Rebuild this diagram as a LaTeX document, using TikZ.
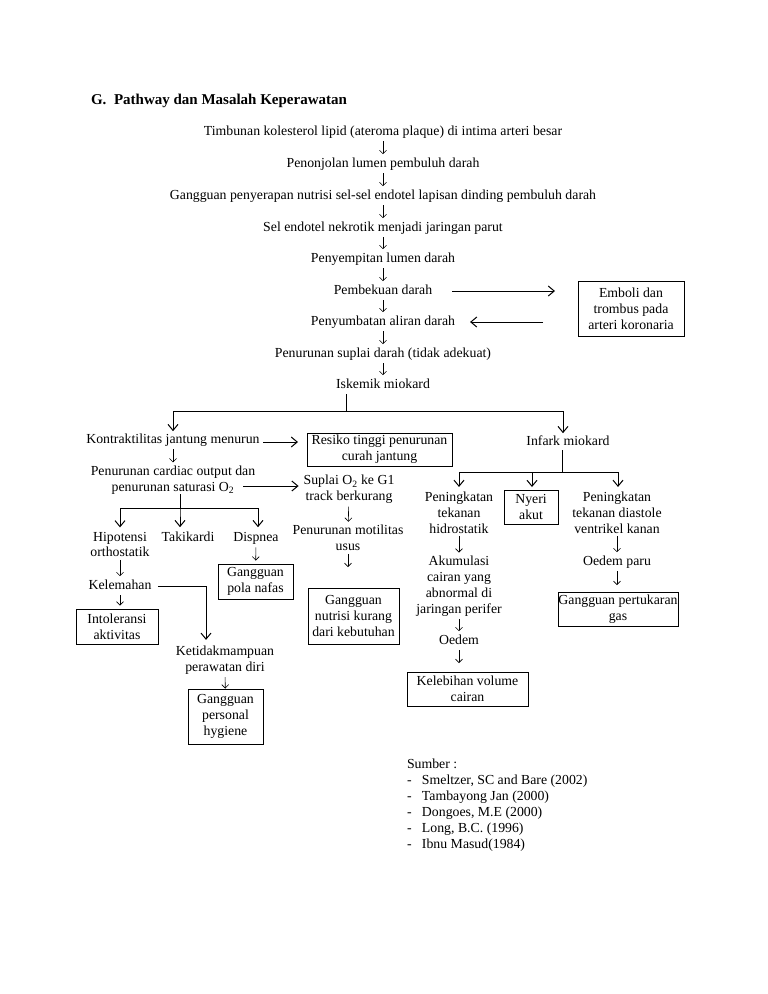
\documentclass[tikz,border=0pt]{standalone}
\usepackage{fontspec}
\setmainfont{Liberation Serif}
\usetikzlibrary{arrows.meta,calc}
\begin{document}
\begin{tikzpicture}[x=1pt,y=-1pt,
  every node/.style={inner sep=0pt, outer sep=0pt, font=\fontsize{13.8}{15.8}\selectfont, align=center},
  txt/.style={text height=9.7pt, text depth=3pt},
  box/.style={draw, line width=0.9pt, inner sep=0pt},
  dn/.style={-{Straight Barb[length=3.5pt,width=7pt]}, line width=0.6pt, shorten <=3pt, shorten >=3.5pt},
  arr/.style={-{Straight Barb[length=6pt,width=10pt]}, line width=1pt},
]
\useasboundingbox[fill=white] (0,0) rectangle (768,994);

\node[anchor=base west, font=\fontsize{15}{18}\selectfont\bfseries] (title) at (91,104.5) {G.\hspace{7.6pt}Pathway dan Masalah Keperawatan};

% main column
\node[txt] (n1) at (383,132) {Timbunan kolesterol lipid (ateroma plaque) di intima arteri besar};
\node[txt] (n2) at (383,164) {Penonjolan lumen pembuluh darah};
\node[txt] (n3) at (383,196) {Gangguan penyerapan nutrisi sel-sel endotel lapisan dinding pembuluh darah};
\node[txt] (n4) at (383,228) {Sel endotel nekrotik menjadi jaringan parut};
\node[txt] (n5) at (383,259) {Penyempitan lumen darah};
\node[txt] (n6) at (383,291) {Pembekuan darah};
\node[txt] (n7) at (383,322) {Penyumbatan aliran darah};
\node[txt] (n8) at (383,354) {Penurunan suplai darah (tidak adekuat)};
\node[txt] (n9) at (383,385) {Iskemik miokard};
\foreach \a/\b in {n1/n2,n2/n3,n3/n4,n4/n5,n5/n6,n6/n7,n7/n8,n8/n9}
  \draw[dn] (\a) -- (\b);

\node[box, minimum width=106pt, minimum height=55pt] (emb) at (631,308.5) {Emboli dan\\trombus pada\\arteri koronaria};
\draw[arr, shorten <=20pt, shorten >=23pt] (n6.east) -- (n6.east -| emb.west);
\draw[arr, shorten <=35pt, shorten >=15pt] (n7.east -| emb.west) -- (n7.east);

% left branch
\node[txt] (kon) at (173,440) {Kontraktilitas jantung menurun};
\node[box, minimum width=145pt, minimum height=33pt] (res) at (379.5,449.5) {Resiko tinggi penurunan\\curah jantung};
\node (card) at (173,480) {Penurunan cardiac output dan\\penurunan saturasi O\textsubscript{2}};
\node (sup) at (349,489.5) {Suplai O\textsubscript{2} ke G1\\track berkurang};
\node (mot) at (348,538) {Penurunan motilitas\\usus};
\node[box, minimum width=91pt, minimum height=56pt] (nut) at (353.5,616) {Gangguan\\nutrisi kurang\\dari kebutuhan};

\node (hip) at (120,544.4) {Hipotensi\\orthostatik};
\node[txt] (tak) at (188,538) {Takikardi};
\node[txt] (dis) at (256,538) {Dispnea};
\node[box, minimum width=75pt, minimum height=35pt] (pola) at (255.5,581.5) {Gangguan\\pola nafas};
\node[txt] (kel) at (120,586) {Kelemahan};
\node[box, minimum width=82pt, minimum height=35pt] (into) at (117,626.5) {Intoleransi\\aktivitas};
\node (ket) at (225,660) {Ketidakmampuan\\perawatan diri};
\node[box, minimum width=75pt, minimum height=55pt] (hyg) at (225.5,716.5) {Gangguan\\personal\\hygiene};

% right branch
\node[txt] (inf) at (568,442) {Infark miokard};
\node (pt) at (459,512.6) {Peningkatan\\tekanan\\hidrostatik};
\node[box, minimum width=54pt, minimum height=34pt] (nye) at (531,507) {Nyeri\\akut};
\node (pd) at (617,512.6) {Peningkatan\\tekanan diastole\\ventrikel kanan};
\node (akum) at (459,586) {Akumulasi\\cairan yang\\abnormal di\\jaringan perifer};
\node[txt] (oed) at (459,641) {Oedem};
\node[box, minimum width=121pt, minimum height=34pt] (keb) at (467.5,689) {Kelebihan volume\\cairan};
\node[txt] (op) at (617,562) {Oedem paru};
\node[box, minimum width=120pt, minimum height=34pt] (gas) at (618,609) {Gangguan pertukaran\\gas};

% Iskemik tree
\draw[arr, shorten <=3pt, shorten >=2.5pt] ([xshift=-37pt]n9.south) -- ++(0,20) -| (kon.north);
\draw[arr, shorten <=3pt, shorten >=2.5pt] ([xshift=-37pt]n9.south) -- ++(0,20) -| ([xshift=-5pt]inf.north);

% left connectors
\draw[arr, shorten <=3.5pt, shorten >=9pt] ([yshift=-2pt]kon.east) -- ([yshift=-2pt]kon.east -| res.west);
\draw[dn] (kon) -- (card);
\draw[arr] ($(card.east)+(-12,6)$) -- ($(sup.west)+(-5,-3.5)$);
\draw[dn] (sup) -- (mot);
\draw[dn, shorten >=21pt] (mot.south) -- (mot.south |- nut.north);

\draw[arr, shorten >=4.5pt] ([xshift=7pt]card.south) -- ++(0,14) -| (hip.north);
\draw[arr, shorten >=4.5pt] ([xshift=7pt]card.south) -- ++(0,14) -| ([xshift=-8pt]tak.north);
\draw[arr, shorten >=4.5pt] ([xshift=7pt]card.south) -- ++(0,14) -| ([xshift=2pt]dis.north);
\draw[dn] (dis) -- (pola);
\draw[dn] (hip) -- (kel);
\draw[dn] (kel.south) -- (kel.south |- into.north);
\draw[arr, shorten <=6.5pt, shorten >=6pt] (kel.east) -| ([xshift=-19pt]ket.north);
\draw[dn, shorten >=0.5pt] (ket) -- (hyg);

% Infark tree
\draw[arr, shorten <=2pt, shorten >=5pt] ([xshift=-6pt]inf.south) -- ++(0,24) -| (pt.north);
\draw[arr, shorten <=2pt, shorten >=3pt] ([xshift=-6pt]inf.south) -- ++(0,24) -| ([xshift=1pt]nye.north);
\draw[arr, shorten <=2pt, shorten >=5pt] ([xshift=-6pt]inf.south) -- ++(0,24) -| ([xshift=1pt]pd.north);
\draw[dn] (pt) -- (akum);
\draw[dn] (akum) -- (oed);
\draw[dn, shorten >=9pt] (oed.south) -- (oed.south |- keb.north);
\draw[dn] (pd) -- (op);
\draw[dn, shorten >=7pt] (op.south) -- (op.south |- gas.north);

% sources
\node[anchor=north west, align=left, font=\fontsize{13.8}{16}\selectfont] (src) at (407,759.1) {Sumber :\\
\makebox[15pt][l]{-}Smeltzer, SC and Bare (2002)\\
\makebox[15pt][l]{-}Tambayong Jan (2000)\\
\makebox[15pt][l]{-}Dongoes, M.E (2000)\\
\makebox[15pt][l]{-}Long, B.C. (1996)\\
\makebox[15pt][l]{-}Ibnu Masud(1984)};
\end{tikzpicture}
\end{document}
